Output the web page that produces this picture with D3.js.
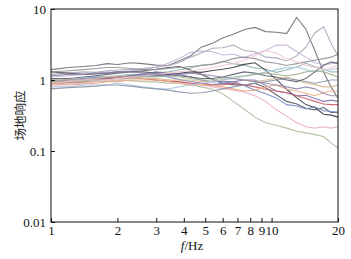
<!DOCTYPE html>
<html>
<head>
<meta charset="utf-8">
<script src="https://cdn.jsdelivr.net/npm/d3@7"></script>
<style>
  body { margin: 0; background: #fff; }
  .tick text { font-family: "Liberation Serif", "DejaVu Serif", serif; font-size: 13px; fill: #111; }
</style>
</head>
<body>
<div id="chart"></div>
<script>
// frequencies (Hz) where each curve was read
const freqs = [1, 1.2, 1.4, 1.6, 1.8, 2, 2.3, 2.6, 3, 3.4, 3.8, 4.3, 4.8, 5.4, 6, 6.7, 7.5, 8.4, 9.4, 10.5, 11.7, 13, 14.3, 15.7, 17.2, 18.6, 20]

// site response curves, one array per station
const s01 = [1.4,1.5,1.55,1.6,1.7,1.65,1.75,1.7,1.62,1.6,1.85,2.2,2.9,3.3,3.9,4.4,5.1,5.5,4.8,4.7,4.5,7.6,5.2,2.6,1.3,0.8,0.55]
const s02 = [1.2,1.25,1.3,1.28,1.35,1.38,1.4,1.45,1.52,1.6,1.75,2.1,2.4,2.8,2.85,3.1,2.6,2.5,2.1,2.05,1.85,2.2,2.9,4.6,5.6,3.3,2.2]
const s03 = [1.1,1.15,1.2,1.25,1.3,1.28,1.36,1.42,1.5,1.72,2.0,2.45,2.55,2.5,2.25,2.3,2.05,2.35,2.6,3.1,3.1,2.5,2.1,1.75,1.65,1.7,1.8]
const s04 = [1.0,1.0,1.05,1.1,1.12,1.15,1.2,1.18,1.26,1.3,1.38,1.48,1.62,1.68,1.82,1.7,1.62,1.48,1.42,1.28,1.38,1.52,1.72,1.55,1.42,1.3,1.3]
const s05 = [0.95,0.95,1.0,1.0,1.05,1.08,1.12,1.15,1.14,1.2,1.24,1.3,1.28,1.36,1.42,1.5,1.66,1.75,1.38,1.02,0.74,0.56,0.45,0.41,0.33,0.32,0.3]
const s06 = [1.3,1.25,1.2,1.22,1.25,1.3,1.32,1.35,1.42,1.5,1.55,1.38,1.2,1.02,0.9,0.86,0.84,0.9,0.78,0.62,0.5,0.46,0.4,0.38,0.41,0.35,0.35]
const s07 = [0.9,0.9,0.92,0.95,0.96,1.0,0.98,0.95,0.94,0.9,0.9,0.86,0.8,0.74,0.64,0.5,0.39,0.3,0.25,0.23,0.21,0.19,0.18,0.17,0.16,0.13,0.11]
const s08 = [0.85,0.88,0.9,0.95,1.0,1.0,1.05,1.04,1.0,1.0,0.95,0.9,0.86,0.8,0.76,0.72,0.68,0.6,0.5,0.38,0.31,0.25,0.22,0.21,0.22,0.21,0.22]
const s09 = [1.0,1.0,1.05,1.1,1.08,1.1,1.15,1.2,1.15,1.1,1.02,0.95,0.9,0.86,0.9,0.95,0.84,0.72,0.64,0.56,0.45,0.43,0.39,0.42,0.37,0.36,0.35]
const s10 = [0.95,1.0,1.0,1.05,1.04,1.1,1.15,1.2,1.3,1.24,1.2,1.1,1.0,0.94,0.96,0.94,1.0,1.0,0.84,0.7,0.66,0.6,0.61,0.55,0.5,0.52,0.5]
const s11 = [0.9,0.92,0.95,1.0,1.05,1.1,1.1,1.05,1.0,0.96,0.95,0.9,0.9,0.84,0.86,0.9,0.85,0.8,0.74,0.7,0.66,0.6,0.55,0.5,0.46,0.45,0.45]
const s12 = [0.85,0.85,0.88,0.9,0.95,0.95,1.0,1.0,1.0,0.95,0.9,0.86,0.85,0.84,0.8,0.75,0.7,0.72,0.8,0.85,0.74,0.7,0.65,0.6,0.66,0.7,0.7]
const s13 = [1.0,1.0,1.0,1.05,1.1,1.1,1.1,1.05,1.05,1.0,1.0,1.0,0.95,0.96,1.0,1.05,1.0,0.95,1.0,1.05,1.1,1.0,0.9,0.86,0.8,0.8,0.85]
const s14 = [0.8,0.8,0.85,0.85,0.85,0.9,0.85,0.8,0.76,0.75,0.8,0.85,0.9,0.95,1.0,1.05,1.12,1.2,1.3,1.4,1.48,1.52,1.4,1.3,1.35,1.4,1.45]
const s15 = [0.75,0.78,0.8,0.82,0.85,0.85,0.82,0.78,0.75,0.72,0.68,0.65,0.66,0.7,0.75,0.8,0.85,0.9,0.95,1.0,1.05,1.0,0.95,0.9,0.95,1.0,1.0]
const s16 = [1.3,1.35,1.4,1.45,1.5,1.5,1.45,1.4,1.4,1.45,1.5,1.55,1.6,1.66,1.8,2.0,2.1,2.0,1.8,1.72,1.6,1.7,1.8,1.9,2.0,2.1,2.3]
const s17 = [1.05,1.05,1.1,1.15,1.2,1.25,1.3,1.3,1.25,1.2,1.15,1.1,1.05,1.05,1.1,1.2,1.3,1.25,1.15,1.1,1.0,0.95,1.05,1.3,1.6,1.8,1.7]
const s18 = [0.95,0.95,0.95,1.0,1.0,1.05,1.05,1.1,1.1,1.15,1.1,1.05,1.0,1.0,1.05,1.1,1.15,1.2,1.25,1.2,1.15,1.2,1.3,1.35,1.3,1.2,1.1]
const s19 = [0.9,0.95,1.0,1.0,1.0,1.05,1.1,1.15,1.2,1.25,1.3,1.35,1.4,1.5,1.6,1.7,1.9,2.2,2.6,2.4,2.0,1.8,1.6,1.5,1.4,1.5,1.6]
const s20 = [1.15,1.2,1.2,1.25,1.25,1.3,1.3,1.25,1.2,1.15,1.2,1.25,1.2,1.15,1.1,1.05,1.0,0.95,0.9,0.85,0.8,0.75,0.8,0.75,0.65,0.6,0.6]

const series = [s01, s02, s03, s04, s05, s06, s07, s08, s09, s10, s11, s12, s13, s14, s15, s16, s17, s18, s19, s20]
const x_ticks = [1, 2, 3, 4, 5, 6, 7, 8, 9, 10, 20]
const y_ticks = [0.01, 0.1, 1, 10]

const colors = ['#707078', '#aaa6ba', '#c8b0d8', '#92b2aa', '#3a3b4a', '#55555c', '#aabb9c', '#eaaec4',
  '#7488c6', '#8270aa', '#c85a66', '#eca884', '#d6b888', '#a8c8e4', '#8894a4', '#929296',
  '#5a6270', '#a2b692', '#f0c6d0', '#9286aa']

const width = 351, height = 259
const pad_left = 51, pad_right = 338, pad_top = 9, pad_bottom = 222

const svg = d3.select('#chart').append('svg')
  .attr('width', width)
  .attr('height', height)

const x = d3.scaleLog().domain([1, 20]).range([pad_left, pad_right])
const y = d3.scaleLog().domain([0.01, 10]).range([pad_bottom, pad_top])

// curves
const line = d3.line()
  .x((d, i) => x(freqs[i]))
  .y((d) => y(d))

svg.selectAll('path.curve')
  .data(series)
  .enter()
  .append('path')
    .attr('class', 'curve')
    .attr('d', (d) => line(d))
    .attr('fill', 'none')
    .attr('stroke', (d, i) => colors[i])
    .attr('stroke-width', 1.1)
    .attr('stroke-opacity', 0.9)

// frame
svg.append('rect')
  .attr('x', pad_left).attr('y', pad_top)
  .attr('width', pad_right - pad_left).attr('height', pad_bottom - pad_top)
  .attr('fill', 'none').attr('stroke', '#111').attr('stroke-width', 1)

// axes, ticks pointing inward
const x_axis = d3.axisBottom(x)
  .tickValues(x_ticks)
  .tickFormat(d3.format('d'))
  .tickSizeInner(-4).tickSizeOuter(0).tickPadding(4)
svg.append('g')
  .attr('transform', `translate(0,${pad_bottom})`)
  .call(x_axis)
  .call(g => g.select('.domain').remove())
  .call(g => g.selectAll('.tick line').attr('stroke', '#111'))

const y_axis = d3.axisLeft(y)
  .tickValues(y_ticks)
  .tickFormat((d) => d >= 1 ? d3.format('d')(d) : String(d))
  .tickSizeInner(-4).tickSizeOuter(0).tickPadding(5)
svg.append('g')
  .attr('transform', `translate(${pad_left},0)`)
  .call(y_axis)
  .call(g => g.select('.domain').remove())
  .call(g => g.selectAll('.tick line').attr('stroke', '#111'))

// axis titles
const xl = svg.append('text')
  .attr('x', 192).attr('y', 250)
  .attr('text-anchor', 'middle')
  .style('font-family', '"Liberation Serif", serif')
  .style('font-size', '13px')
  .attr('fill', '#111')
xl.append('tspan').style('font-style', 'italic').text('f')
xl.append('tspan').text('/Hz')

svg.append('text')
  .attr('transform', `translate(25,${(pad_top + pad_bottom) / 2}) rotate(-90)`)
  .attr('text-anchor', 'middle')
  .style('font-family', '"Noto Sans CJK SC", sans-serif')
  .style('font-size', '12.5px')
  .attr('fill', '#222')
  .text('场地响应')
</script>
</body>
</html>
